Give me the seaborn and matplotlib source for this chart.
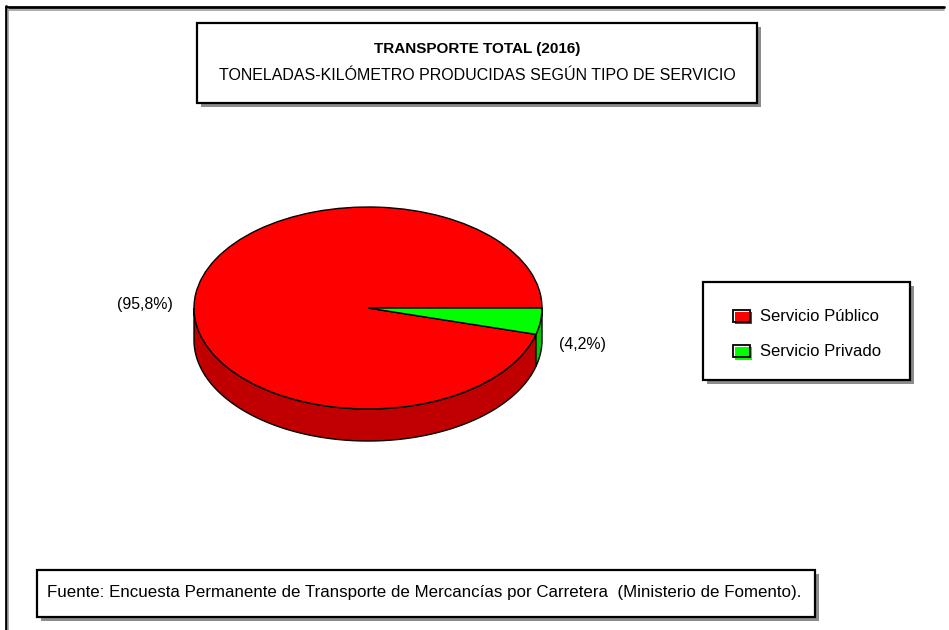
import numpy as np
import matplotlib
matplotlib.use("Agg")
import matplotlib.pyplot as plt
import seaborn as sns
from matplotlib.patches import Rectangle, Polygon, Patch
from matplotlib.transforms import Affine2D
from matplotlib.legend_handler import HandlerBase

# ---- data -------------------------------------------------------------
services = ["Servicio Público", "Servicio Privado"]
shares = [95.8, 4.2]
top_colors = ["#FF0000", "#00FF00"]
side_colors = ["#C00000", "#00C800"]
title = "TRANSPORTE TOTAL (2016)"
subtitle = "TONELADAS-KILÓMETRO PRODUCIDAS SEGÚN TIPO DE SERVICIO"
source = ("Fuente: Encuesta Permanente de Transporte de Mercancías por Carretera  "
          "(Ministerio de Fomento).")

sns.set_theme(style="white")
plt.rcParams["font.family"] = ["Liberation Sans", "DejaVu Sans"]
plt.rcParams["text.color"] = "black"

W, H = 949, 630
fig = plt.figure(figsize=(W / 100, H / 100), dpi=100)
fig.patch.set_facecolor("white")

# overlay in pixel units (y pointing down) for frames and captions
bg = fig.add_axes([0, 0, 1, 1])
bg.set_xlim(0, W)
bg.set_ylim(H, 0)
bg.axis("off")


def shadow_box(x0, y0, x1, y1, off=4):
    bg.add_patch(Rectangle((x0 + off, y0 + off), x1 - x0, y1 - y0,
                           facecolor="#8c8c8c", edgecolor="none", zorder=1))
    bg.add_patch(Rectangle((x0, y0), x1 - x0, y1 - y0, facecolor="white",
                           edgecolor="black", lw=1.6, zorder=2))


# outer chart-area frame (top and left edges)
bg.plot([6, 944], [7, 7], color="black", lw=2, zorder=1)
bg.plot([8, 944], [9.5, 9.5], color="#a0a0a0", lw=1.2, zorder=1)
bg.plot([6, 6], [6, H], color="black", lw=2, zorder=1)
bg.plot([8.5, 8.5], [9, H], color="#a0a0a0", lw=1.2, zorder=1)

# title block
shadow_box(197, 23, 757, 103)
bg.text(477, 49, title, ha="center", va="center", fontsize=11,
        fontweight="bold", color="black", zorder=3)
bg.text(477, 75, subtitle, ha="center", va="center", fontsize=11.5,
        color="black", zorder=3)

# source block
shadow_box(37, 570, 815, 617)
bg.text(47, 593, source, ha="left", va="center", fontsize=12.2,
        color="black", zorder=3)

# legend frame
shadow_box(703, 282, 910, 380)

# ---- 3D-looking pie ---------------------------------------------------
cx, cy = 368, 308          # pie centre in pixels
R = 174                    # horizontal radius in pixels
k = 101 / 174              # vertical squash of the top face
depth = 32 / R             # thickness of the side wall

ax = fig.add_axes([(cx - 190) / W, 1 - (cy + 150) / H, 380 / W, 265 / H])
ax.patch.set_alpha(0)
wedges, _ = ax.pie(shares, colors=top_colors, startangle=0, counterclock=True,
                   wedgeprops=dict(edgecolor="black", linewidth=1.0))
ax.set_aspect("auto")
ax.set_xlim(-190 / R, 190 / R)
ax.set_ylim(-150 / R, 115 / R)
ax.axis("off")

squash = Affine2D().scale(1, k) + ax.transData
for w in wedges:
    w.set_transform(squash)
    w.set_zorder(3)

# front side walls: only the part of each slice facing the viewer
for w, c in zip(wedges, side_colors):
    a, b = max(w.theta1, 180.0), min(w.theta2, 360.0)
    if b <= a:
        continue
    t = np.radians(np.linspace(a, b, 240))
    top = np.column_stack([np.cos(t), k * np.sin(t)])
    bot = np.column_stack([np.cos(t[::-1]), k * np.sin(t[::-1]) - depth])
    ax.add_patch(Polygon(np.vstack([top, bot]), closed=True, facecolor=c,
                         edgecolor="black", lw=1.0, zorder=2))


def pct(v):
    return "({:.1f}%)".format(v).replace(".", ",")


bg.text(145, 305, pct(shares[0]), ha="center", va="center", fontsize=11.4,
        color="black", zorder=3)
bg.text(583, 345, pct(shares[1]), ha="center", va="center", fontsize=11.4,
        color="black", zorder=3)


# ---- legend -----------------------------------------------------------
class OffsetSwatch(HandlerBase):
    def create_artists(self, legend, orig_handle, xdescent, ydescent,
                       width, height, fontsize, trans):
        fill = Rectangle((-xdescent + 1.5, -ydescent - 1.5), width - 1.5, height - 1.5,
                         facecolor=orig_handle.get_facecolor(), edgecolor="none",
                         transform=trans)
        edge = Rectangle((-xdescent, -ydescent), width - 1.5, height - 1.5,
                         facecolor="none", edgecolor="black", lw=1.3,
                         transform=trans)
        return [fill, edge]


handles = [Patch(facecolor=c) for c in top_colors]
fig.legend(handles, services, loc="center left",
           bbox_to_anchor=(733 / W, 1 - 333.5 / H), frameon=False,
           fontsize=12, borderpad=0, borderaxespad=0, handlelength=1.15,
           handleheight=0.95, handletextpad=0.45, labelspacing=1.15,
           labelcolor="black", handler_map={Patch: OffsetSwatch()})

fig.savefig("out.png", dpi=100, facecolor="white")
